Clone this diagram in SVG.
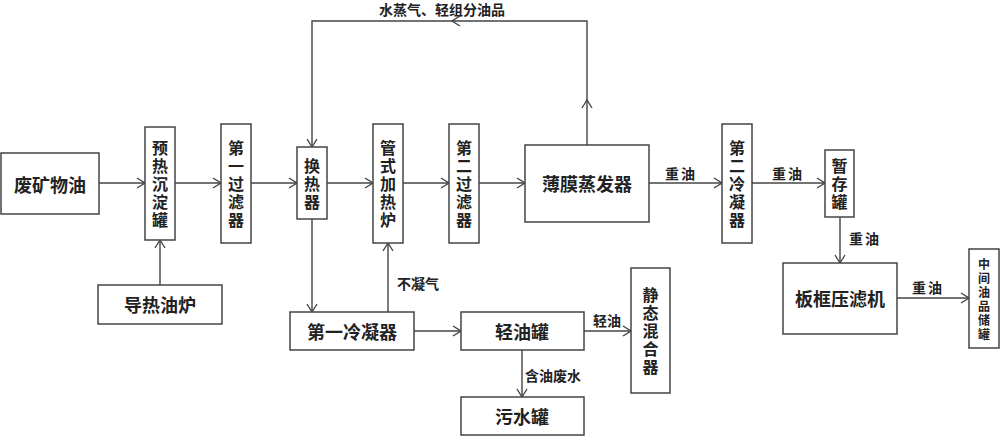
<svg xmlns="http://www.w3.org/2000/svg" width="1000" height="436" viewBox="0 0 1000 436">
<style>
.b{fill:#fff;stroke:#444;stroke-width:1.5}
.t{font-family:"Noto Sans CJK SC","Noto Sans CJK JP",sans-serif;font-weight:bold;fill:#222;font-size:18px;text-anchor:middle;dominant-baseline:central}
.v{font-size:16px}
.s{font-size:12px}
.l{font-family:"Noto Sans CJK SC","Noto Sans CJK JP",sans-serif;font-weight:bold;fill:#222;font-size:14px;dominant-baseline:central}
.c{fill:none;stroke:#444;stroke-width:1.4}
</style>
<defs>
<marker id="a" markerUnits="userSpaceOnUse" markerWidth="12" markerHeight="12" refX="9" refY="6" orient="auto">
<path d="M1,1 L9,6 L1,11" fill="none" stroke="#444" stroke-width="1.4"/>
</marker>
</defs>
<rect width="1000" height="436" fill="#fff"/>
<g id="connectors" class="c">
<path d="M99,183 H145" marker-end="url(#a)"/>
<path d="M175,183 H221" marker-end="url(#a)"/>
<path d="M251,183 H297" marker-end="url(#a)"/>
<path d="M327,183 H373" marker-end="url(#a)"/>
<path d="M403,183 H449" marker-end="url(#a)"/>
<path d="M479,183 H525" marker-end="url(#a)"/>
<path d="M649,183 H722" marker-end="url(#a)"/>
<path d="M752,183 H825" marker-end="url(#a)"/>
<path d="M840,217 V263" marker-end="url(#a)"/>
<path d="M897,298 H969" marker-end="url(#a)"/>
<path d="M587,145 V100" marker-end="url(#a)"/>
<path d="M587,100 V21 H452" marker-end="url(#a)"/>
<path d="M452,21 H312 V147" marker-end="url(#a)"/>
<path d="M160,285 V240" marker-end="url(#a)"/>
<path d="M312,219 V312" marker-end="url(#a)"/>
<path d="M388,312 V243" marker-end="url(#a)"/>
<path d="M414,331 H461" marker-end="url(#a)"/>
<path d="M584,331 H631" marker-end="url(#a)"/>
<path d="M522,350 V397" marker-end="url(#a)"/>
</g>
<g id="labels">
<text class="l" x="442" y="9" text-anchor="middle">水蒸气、轻组分油品</text>
<text class="l" x="681" y="173" text-anchor="middle" font-size="16" letter-spacing="2">重油</text>
<text class="l" x="788" y="173" text-anchor="middle" font-size="16" letter-spacing="2">重油</text>
<text class="l" x="865" y="238" text-anchor="middle" font-size="16" letter-spacing="2">重油</text>
<text class="l" x="928" y="287" text-anchor="middle" font-size="16" letter-spacing="2">重油</text>
<text class="l" x="397" y="283">不凝气</text>
<text class="l" x="607" y="320" text-anchor="middle">轻油</text>
<text class="l" x="525" y="375">含油废水</text>
</g>
<g id="n1"><rect class="b" x="1" y="153" width="98" height="61"/><text class="t" x="50" y="184">废矿物油</text></g>
<g id="n2"><rect class="b" x="145" y="127" width="30" height="113"/><text class="t v"><tspan x="160" y="147">预</tspan><tspan x="160" y="165">热</tspan><tspan x="160" y="183">沉</tspan><tspan x="160" y="201">淀</tspan><tspan x="160" y="219">罐</tspan></text></g>
<g id="n3"><rect class="b" x="221" y="124" width="30" height="119"/><text class="t v"><tspan x="236" y="147">第</tspan><tspan x="236" y="165">一</tspan><tspan x="236" y="183">过</tspan><tspan x="236" y="201">滤</tspan><tspan x="236" y="219">器</tspan></text></g>
<g id="n4"><rect class="b" x="297" y="147" width="30" height="72"/><text class="t v"><tspan x="312" y="165">换</tspan><tspan x="312" y="183">热</tspan><tspan x="312" y="201">器</tspan></text></g>
<g id="n5"><rect class="b" x="373" y="124" width="30" height="119"/><text class="t v"><tspan x="388" y="147">管</tspan><tspan x="388" y="165">式</tspan><tspan x="388" y="183">加</tspan><tspan x="388" y="201">热</tspan><tspan x="388" y="219">炉</tspan></text></g>
<g id="n6"><rect class="b" x="449" y="124" width="30" height="119"/><text class="t v"><tspan x="464" y="147">第</tspan><tspan x="464" y="165">二</tspan><tspan x="464" y="183">过</tspan><tspan x="464" y="201">滤</tspan><tspan x="464" y="219">器</tspan></text></g>
<g id="n7"><rect class="b" x="525" y="145" width="124" height="77"/><text class="t" x="587" y="183">薄膜蒸发器</text></g>
<g id="n8"><rect class="b" x="722" y="124" width="30" height="119"/><text class="t v"><tspan x="737" y="147">第</tspan><tspan x="737" y="165">二</tspan><tspan x="737" y="183">冷</tspan><tspan x="737" y="201">凝</tspan><tspan x="737" y="219">器</tspan></text></g>
<g id="n9"><rect class="b" x="825" y="150" width="29" height="67"/><text class="t v"><tspan x="839.5" y="165">暂</tspan><tspan x="839.5" y="183">存</tspan><tspan x="839.5" y="201">罐</tspan></text></g>
<g id="n10"><rect class="b" x="783" y="263" width="114" height="71"/><text class="t" x="840" y="298">板框压滤机</text></g>
<g id="n11"><rect class="b" x="969" y="249" width="30" height="99"/><text class="t s"><tspan x="984" y="263">中</tspan><tspan x="984" y="277">间</tspan><tspan x="984" y="291">油</tspan><tspan x="984" y="305">品</tspan><tspan x="984" y="319">储</tspan><tspan x="984" y="333">罐</tspan></text></g>
<g id="n12"><rect class="b" x="98" y="285" width="124" height="39"/><text class="t" x="160" y="304">导热油炉</text></g>
<g id="n13"><rect class="b" x="290" y="312" width="124" height="38"/><text class="t" x="352" y="331">第一冷凝器</text></g>
<g id="n14"><rect class="b" x="461" y="312" width="123" height="38"/><text class="t" x="522" y="331">轻油罐</text></g>
<g id="n15"><rect class="b" x="631" y="268" width="39" height="125"/><text class="t v"><tspan x="650.5" y="294">静</tspan><tspan x="650.5" y="312">态</tspan><tspan x="650.5" y="330">混</tspan><tspan x="650.5" y="348">合</tspan><tspan x="650.5" y="366">器</tspan></text></g>
<g id="n16"><rect class="b" x="461" y="397" width="123" height="38"/><text class="t" x="522" y="416">污水罐</text></g>
</svg>
